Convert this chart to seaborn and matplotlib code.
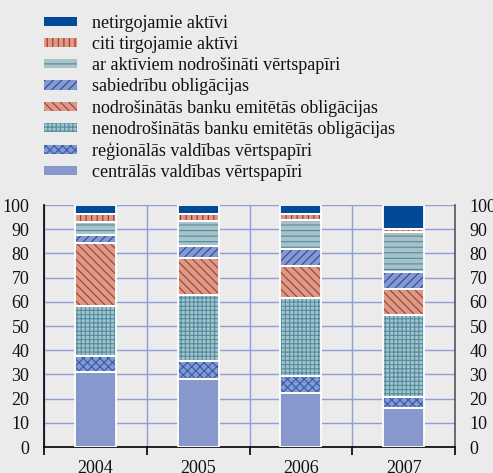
import numpy as np
import pandas as pd
import matplotlib
matplotlib.use("Agg")
import matplotlib.pyplot as plt
from matplotlib.patches import Patch
import seaborn as sns

# Structure of eligible collateral, % of total
years = ["2004", "2005", "2006", "2007"]
centralas = [31.0, 28.0, 22.5, 16.0]
regionalas = [6.8, 7.4, 6.8, 4.8]
nenodrosinatas = [20.4, 27.4, 32.3, 33.7]
nodrosinatas = [26.1, 15.3, 13.3, 10.8]
sabiedribu = [3.3, 4.8, 6.8, 6.9]
ar_aktiviem = [5.3, 10.4, 12.0, 16.6]
citi = [3.3, 3.0, 2.7, 1.2]
netirgojamie = [3.8, 3.7, 3.6, 10.0]

labels = [
    "centrālās valdības vērtspapīri",
    "reģionālās valdības vērtspapīri",
    "nenodrošinātās banku emitētās obligācijas",
    "nodrošinātās banku emitētās obligācijas",
    "sabiedrību obligācijas",
    "ar aktīviem nodrošināti vērtspapīri",
    "citi tirgojamie aktīvi",
    "netirgojamie aktīvi",
]
series = [centralas, regionalas, nenodrosinatas, nodrosinatas,
          sabiedribu, ar_aktiviem, citi, netirgojamie]

PERI = "#8898cc"
SALMON = "#d99a88"
GREYTEAL = "#a9c1c8"
styles = [
    dict(face=PERI, hatch=None, hcol=PERI),
    dict(face=PERI, hatch="xxxx", hcol="#2a5cb0"),
    dict(face=GREYTEAL, hatch="++++", hcol="#4a8fa0"),
    dict(face=SALMON, hatch="\\\\\\\\", hcol="#a83a30"),
    dict(face=PERI, hatch="////", hcol="#1d4fa8"),
    dict(face=GREYTEAL, hatch="---", hcol="#4a8fa0"),
    dict(face=SALMON, hatch="|||", hcol="#b02a20"),
    dict(face="#004a98", hatch=None, hcol="#004a98"),
]

BG = "#ebebeb"
GRID = "#8f9dd8"

sns.set_style("white")
plt.rcParams["font.family"] = ["Liberation Serif", "DejaVu Serif"]
plt.rcParams["hatch.linewidth"] = 0.8

fig = plt.figure(figsize=(4.93, 4.73), dpi=100, facecolor=BG)
ax = fig.add_axes([44 / 493, 26 / 473, 411 / 493, 242 / 473])
ax.set_facecolor(BG)

bottom = np.zeros(len(years))
for vals, st in zip(series, styles):
    df = pd.DataFrame({"year": years, "value": vals})
    # filled, hatched segment
    sns.barplot(data=df, x="year", y="value", ax=ax, bottom=bottom,
                width=0.4, color=st["face"], facecolor=st["face"],
                hatch=st["hatch"], edgecolor=st["hcol"], linewidth=0,
                saturation=1, errorbar=None, zorder=3)
    # white outline around the segment
    sns.barplot(data=df, x="year", y="value", ax=ax, bottom=bottom,
                width=0.4, color="white", fill=False, edgecolor="white",
                linewidth=1.3, saturation=1, errorbar=None, zorder=4)
    bottom = bottom + np.array(vals)

ax.set_ylim(0, 100)
ax.set_xlim(-0.5, len(years) - 0.5)
ax.set_yticks(np.arange(0, 101, 10))
ax.set_xticks(range(len(years)))
ax.set_xticklabels(years)
ax.set_xticks(np.arange(-0.5, len(years), 1.0), minor=True)
ax.set_xlabel("")
ax.set_ylabel("")

ax.grid(axis="y", which="major", color=GRID, linewidth=1.0, zorder=0)
ax.grid(axis="x", which="minor", color=GRID, linewidth=1.0, zorder=0)
ax.set_axisbelow(True)

ax.tick_params(axis="y", which="both", left=False, right=False,
               labelleft=True, labelright=True, labelsize=13, pad=7,
               colors="#111111")
ax.tick_params(axis="x", which="major", length=0, labelsize=13, pad=9,
               colors="#111111")
ax.tick_params(axis="x", which="minor", bottom=True, length=6, width=1.2,
               direction="out", color="black")

ax.spines["top"].set_visible(False)
ax.spines["left"].set_color("black")
ax.spines["left"].set_linewidth(1.2)
ax.spines["bottom"].set_color("black")
ax.spines["bottom"].set_linewidth(1.2)
ax.spines["right"].set_color("#555555")
ax.spines["right"].set_linewidth(1.2)

handles = [Patch(facecolor=st["face"], hatch=st["hatch"],
                 edgecolor=st["hcol"], linewidth=0) for st in styles]
leg = fig.legend(handles[::-1], labels[::-1], loc="upper left",
                 bbox_to_anchor=(44 / 493, 1 - 15 / 473),
                 bbox_transform=fig.transFigure,
                 frameon=False, fontsize=13, handlelength=1.85,
                 handleheight=0.4, handletextpad=0.8, labelspacing=0.23,
                 borderpad=0, borderaxespad=0)
for t in leg.get_texts():
    t.set_color("#111111")

fig.savefig("out.png", dpi=100, facecolor=BG)
